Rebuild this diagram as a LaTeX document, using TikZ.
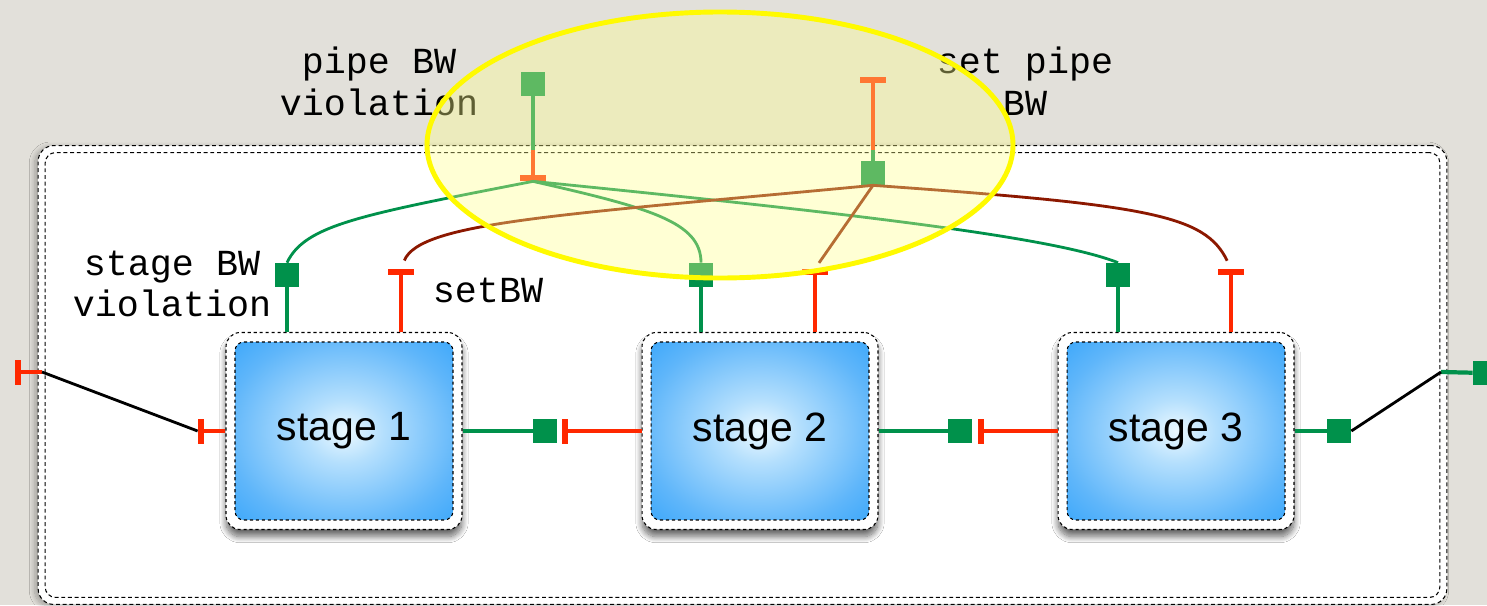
\documentclass[tikz,border=0pt]{standalone}
\usepackage{fontspec}
\newfontfamily\monofont{Liberation Mono}
\newfontfamily\sansfont{Liberation Sans}
\usetikzlibrary{shadows.blur}

\definecolor{paper}{RGB}{226,224,218}
\definecolor{portgreen}{RGB}{0,145,75}
\definecolor{portred}{RGB}{255,40,0}
\definecolor{wirered}{RGB}{140,24,0}
\definecolor{stageblue}{RGB}{24,152,250}
\definecolor{stagemid}{RGB}{95,182,250}
\definecolor{stagesoft}{RGB}{180,223,253}
\definecolor{stagelight}{RGB}{236,249,255}
\definecolor{halo}{RGB}{255,255,140}
\definecolor{halorim}{RGB}{255,250,0}

% soft glow inside the stage boxes
\pgfdeclareradialshading{stageglow}{\pgfpoint{0bp}{0bp}}{%
  color(0bp)=(stagelight); color(9bp)=(stagesoft);
  color(27bp)=(stagemid); color(46bp)=(stageblue)}

\begin{document}
\begin{tikzpicture}[x=0.02cm, y=-0.02cm,
  pipebox/.style={draw, fill=white, dash pattern=on 2.2pt off 1.6pt, line width=0.6pt,
    rounded corners=9pt, minimum width=28.18cm, minimum height=9.18cm, inner sep=0pt,
    blur shadow={shadow xshift=-2pt, shadow yshift=-1pt, shadow blur radius=3pt,
      shadow blur steps=12, shadow opacity=30}},
  pipeinner/.style={draw, dash pattern=on 2.2pt off 1.6pt, line width=0.6pt,
    rounded corners=6pt, minimum width=27.9cm, minimum height=8.9cm, inner sep=0pt},
  stagebox/.style={draw, fill=white, dash pattern=on 1.8pt off 1.6pt, line width=0.6pt,
    rounded corners=8pt, minimum width=4.72cm, minimum height=3.94cm, inner sep=0pt,
    blur shadow={shadow xshift=0pt, shadow yshift=-4pt, shadow blur radius=3.5pt,
      shadow blur steps=12, shadow opacity=60}},
  stagecore/.style={draw, dash pattern=on 1.8pt off 1.6pt, line width=0.6pt,
    rounded corners=5pt, minimum width=4.36cm, minimum height=3.56cm, inner sep=0pt,
    shading=stageglow, font=\sansfont\fontsize{23.3}{28}\selectfont},
  outsq/.style={fill=portgreen, minimum size=0.48cm, inner sep=0pt},
  inbar/.style={fill=portred, minimum width=0.12cm, minimum height=0.5cm, inner sep=0pt},
  inbartop/.style={fill=portred, minimum width=0.52cm, minimum height=0.12cm, inner sep=0pt},
  gstub/.style={portgreen, line width=2.4pt},
  rstub/.style={portred, line width=2.4pt},
  gwire/.style={portgreen, line width=1.6pt},
  rwire/.style={wirered, line width=1.6pt},
  link/.style={black, line width=1.6pt},
  tag/.style={font=\monofont\fontsize{20.9}{23.8}\selectfont, align=center}]

  \useasboundingbox (0,0) rectangle (1487,605);
  \fill[paper] (0,0) rectangle (1487,605);

  % pipeline box
  \node[pipebox] (pipe) at (742.5,375) {};
  \node[pipeinner] (pipein) at (pipe) {};

  % stages
  \node[stagebox] (s1) at (344,431) {};
  \node[stagecore] (c1) at (s1) {\raisebox{-2pt}{stage 1}};
  \node[stagebox] (s2) at (760,431) {};
  \node[stagecore] (c2) at (s2) {\raisebox{-2pt}{stage 2}};
  \node[stagebox] (s3) at (1176,431) {};
  \node[stagecore] (c3) at (s3) {\raisebox{-2pt}{stage 3}};

  % data ports between the stages
  \node[inbar] (in1) at (201,431) {};
  \node[outsq] (out1) at (545,431) {};
  \node[inbar] (in2) at (565,431) {};
  \node[outsq] (out2) at (960,431) {};
  \node[inbar] (in3) at (981,431) {};
  \node[outsq] (out3) at (1339,431) {};
  \draw[rstub] (in1) -- (s1.west);
  \draw[gstub] (s1.east) -- (out1);
  \draw[rstub] (in2) -- (s2.west);
  \draw[gstub] (s2.east) -- (out2);
  \draw[rstub] (in3) -- (s3.west);
  \draw[gstub] (s3.east) -- (out3);

  % pipeline in/out
  \node[inbar] (pin) at (18,372) {};
  \coordinate (pinl) at (42,372);
  \draw[rstub] (pin) -- (pinl);
  \draw[link] (pinl) -- (in1.west);
  \coordinate (poutr) at (1441,372);
  \node[outsq] (pout) at (1485,373) {};
  \draw[gstub] (poutr) -- (pout);
  \draw[link] (out3.east) -- (poutr);

  % bandwidth ports on top of each stage
  \node[outsq] (g1) at (287,275) {};
  \node[inbartop] (r1) at (401,272) {};
  \node[outsq] (g2) at (701,275) {};
  \node[inbartop] (r2) at (815,272) {};
  \node[outsq] (g3) at (1118,275) {};
  \node[inbartop] (r3) at (1231,272) {};
  \draw[gstub] (g1) -- (g1 |- s1.north);
  \draw[rstub] (r1) -- (r1 |- s1.north);
  \draw[gstub] (g2) -- (g2 |- s2.north);
  \draw[rstub] (r2) -- (r2 |- s2.north);
  \draw[gstub] (g3) -- (g3 |- s3.north);
  \draw[rstub] (r3) -- (r3 |- s3.north);

  % pipeline bandwidth ports
  \node[outsq] (pv) at (533,84) {};
  \node[inbartop] (pvin) at (533,178) {};
  \coordinate (pvx) at (533,150);
  \draw[gstub] (pv) -- (pvx);
  \draw[rstub] (pvx) -- (pvin);
  \node[inbartop] (sp) at (873,80) {};
  \node[outsq] (spout) at (873,173) {};
  \coordinate (spx) at (873,150);
  \draw[rstub] (sp) -- (spx);
  \draw[gstub] (spx) -- (spout);

  % violation wires
  \draw[gwire] (pvin.south) .. controls (360,215) and (305,225) .. (g1.north);
  \draw[gwire] (pvin.south) .. controls (650,208) and (701,222) .. (g2.north);
  \draw[gwire] (pvin.south) .. controls (900,218) and (1060,240) .. (g3.north);
  % set wires
  \draw[rwire, shorten >=5pt] (spout.south) .. controls (560,215) and (420,222) .. (r1.north);
  \draw[rwire, shorten >=4pt] (spout.south) -- (r2.north);
  \draw[rwire, shorten >=5pt] (spout.south) .. controls (1150,205) and (1205,215) .. (r3.north);

  % labels
  \node[tag] (pvlab) at (379,81) {pipe BW\\violation};
  \node[tag] (splab) at (1025,81) {set pipe\\BW};
  \node[tag] (svlab) at (172,284) {stage BW\\violation};
  \node[tag] (sblab) at (488,290) {setBW};

  % highlight
  \draw[halorim, line width=2.8pt, fill=halo, fill opacity=0.37]
    (720,145) ellipse [x radius=293, y radius=133];
\end{tikzpicture}
\end{document}
